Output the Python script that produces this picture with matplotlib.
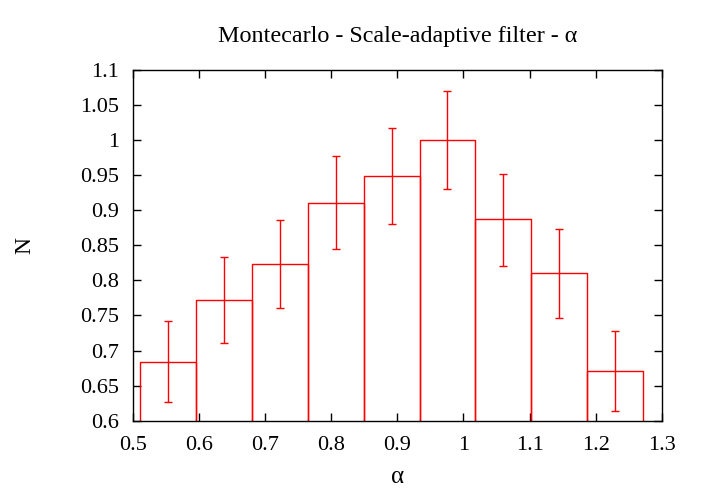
import matplotlib
matplotlib.use("Agg")
import matplotlib.pyplot as plt
import numpy as np

bin_left = [0.511, 0.5955, 0.680, 0.7645, 0.849, 0.9335, 1.018, 1.1025, 1.187]
bin_width = 0.0846
values = [0.684, 0.772, 0.823, 0.911, 0.949, 1.000, 0.887, 0.810, 0.671]
err_low = [0.626, 0.711, 0.760, 0.845, 0.881, 0.930, 0.821, 0.747, 0.614]
err_high = [0.742, 0.834, 0.886, 0.978, 1.018, 1.070, 0.952, 0.873, 0.728]

plt.rcParams['font.family'] = ['Liberation Serif', 'DejaVu Serif']

fig = plt.figure(figsize=(7.01, 4.91), dpi=100)
ax = fig.add_axes([0.1897, 0.1432, 0.7543, 0.7142])

red = '#ff0000'
centers = [l + bin_width / 2 for l in bin_left]
for l, v in zip(bin_left, values):
    ax.plot([l, l, l + bin_width, l + bin_width], [0.6, v, v, 0.6], color=red, lw=1.0)

v = np.array(values)
yerr = [v - np.array(err_low), np.array(err_high) - v]
ax.errorbar(centers, values, yerr=yerr, fmt='none', ecolor=red, elinewidth=1.0,
            capsize=3, capthick=1.0)

ax.set_xlim(0.5, 1.3)
ax.set_ylim(0.6, 1.1)
ax.set_xticks(np.arange(0.5, 1.31, 0.1))
ax.set_xticklabels(['0.5', '0.6', '0.7', '0.8', '0.9', '1', '1.1', '1.2', '1.3'])
ax.set_yticks(np.arange(0.6, 1.101, 0.05))
ax.set_yticklabels(['0.6', '0.65', '0.7', '0.75', '0.8', '0.85', '0.9', '0.95', '1', '1.05', '1.1'])
ax.tick_params(axis='both', direction='in', length=6, width=1, top=True, right=True, labelsize=16)
ax.tick_params(axis='x', pad=11)
ax.tick_params(axis='y', pad=10)
for s in ax.spines.values():
    s.set_linewidth(1.0)

ax.set_title('Montecarlo - Scale-adaptive filter - α', fontsize=17.4, pad=20)
ax.set_xlabel('α', fontsize=18, labelpad=8)
ax.set_ylabel('N', fontsize=17, labelpad=32)

fig.savefig('out.png', dpi=100)
